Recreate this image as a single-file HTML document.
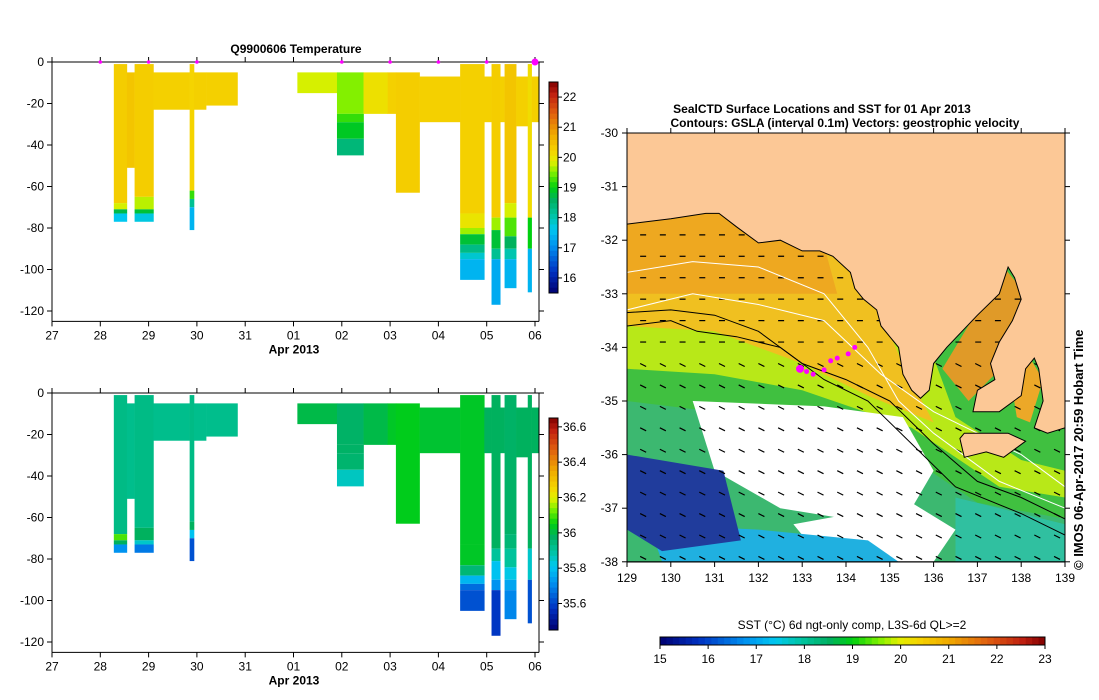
<!DOCTYPE html>
<html><head><meta charset="utf-8"><style>
html,body{margin:0;padding:0;background:#fff;}
svg{display:block;font-family:"Liberation Sans",sans-serif;}
</style></head><body>
<svg id="root" width="1099" height="700" viewBox="0 0 1099 700" xmlns="http://www.w3.org/2000/svg">
<g id="top"></g>
<g id="bot"></g>
<g id="map"></g>
</svg>
<script>
// ---- section data ----
const dayLabels = ["27","28","29","30","31","01","02","03","04","05","06"];
const surfaceDays = [1,2,3,6,7,8,9,10];
const tempTicks = [16,17,18,19,20,21,22];
const salTicks = [35.6,35.8,36,36.2,36.4,36.6];
const depthTicks = [0,-20,-40,-60,-80,-100,-120];
// profiles: [startDay, endDay, segments [depthTop, depthBottom, temperature, salinity]]
const profiles = [
 [1.28,1.55,[[1,68,20.3,35.93],[68,71,19.8,36.1],[71,73,18.7,35.98],[73,77,17.6,35.72]]],
 [1.55,1.71,[[5,51,20.4,35.92]]],
 [1.71,2.10,[[1,65,20.3,35.93],[65,71,19.7,35.98],[71,73,18.8,35.85],[73,77,17.7,35.68]]],
 [2.10,2.85,[[5,23,20.25,35.92]]],
 [2.85,2.94,[[1,62,20.2,35.93],[62,66,19.2,35.98],[66,70,18.2,35.8],[70,81,17.4,35.62]]],
 [2.94,3.19,[[5,23,20.25,35.92]]],
 [3.19,3.84,[[5,21,20.25,35.92]]],
 [5.08,5.90,[[5,15,19.8,36.0]]],
 [5.90,6.45,[[5,25,19.5,35.97],[25,29,19.2,35.97],[29,37,18.9,35.96],[37,45,18.4,35.86]]],
 [6.45,6.95,[[5,25,20.05,36.0]]],
 [6.95,7.12,[[5,25,20.25,36.03]]],
 [7.12,7.61,[[5,63,20.3,36.04]]],
 [7.61,8.45,[[7,29,20.25,36.02]]],
 [8.45,8.95,[[1,73,20.25,36.03],[73,80,20.0,36.03],[80,83,19.6,36.03],[83,88,18.8,35.95],[88,92,18.3,35.78],[92,95,17.8,35.66],[95,105,17.4,35.62]]],
 [8.95,9.10,[[7,29,20.25,35.98]]],
 [9.10,9.28,[[1,75,20.3,35.98],[75,81,19.6,35.9],[81,90,18.8,35.8],[90,95,18.2,35.72],[95,117,17.3,35.58]]],
 [9.28,9.37,[[7,29,20.25,35.98]]],
 [9.37,9.61,[[1,68,20.4,35.97],[68,75,19.8,35.95],[75,84,19.3,35.9],[84,90,18.6,35.82],[90,95,18.0,35.75],[95,109,17.4,35.7]]],
 [9.61,9.85,[[7,31,20.25,35.98]]],
 [9.85,9.93,[[1,75,20.1,35.98],[75,90,19.0,35.85],[90,111,17.4,35.62]]],
 [9.93,10.07,[[7,29,20.25,35.98]]]
];
const sstTicks = [15,16,17,18,19,20,21,22,23];
const lonTicks = [129,130,131,132,133,134,135,136,137,138,139];
const latTicks = [-30,-31,-32,-33,-34,-35,-36,-37,-38];
// seal surface positions [lon, lat]
const sealLon = [132.95,133.1,133.25,133.5,133.65,133.8,134.05,134.2];
const sealLat = [-34.4,-34.45,-34.5,-34.42,-34.25,-34.2,-34.12,-34.0];

const NS="http://www.w3.org/2000/svg";
function el(tag,attrs,parent,text){const e=document.createElementNS(NS,tag);for(const k in attrs)e.setAttribute(k,attrs[k]);if(text!==undefined)e.textContent=text;parent.appendChild(e);return e;}
const stops=[[0,[0,0,112]],[0.1,[0,48,192]],[0.22,[0,144,240]],[0.3,[0,200,240]],[0.37,[0,196,160]],[0.44,[0,176,96]],[0.5,[0,208,16]],[0.57,[128,240,0]],[0.62,[225,240,0]],[0.67,[245,213,0]],[0.75,[240,170,0]],[0.85,[224,96,16]],[0.94,[192,32,16]],[1,[128,0,0]]];
function cmap(t){t=Math.max(0,Math.min(1,t));for(let i=1;i<stops.length;i++){if(t<=stops[i][0]){const a=stops[i-1],b=stops[i];const f=(t-a[0])/(b[0]-a[0]);const c=a[1].map((v,j)=>Math.round(v+(b[1][j]-v)*f));return `rgb(${c[0]},${c[1]},${c[2]})`;}}return "rgb(128,0,0)";}

function section(g,y0,idx,vmin,vmax,ticks,cbTop,cbBot,title){
  const x0=52,pxd=48.3,pxm=2.075;
  const X=d=>x0+d*pxd, Y=z=>y0+z*pxm;
  if(title) { const t=el('text',{x:296,y:y0-9,'text-anchor':'middle','font-size':12,'font-weight':'bold'},g,title);
      }
  profiles.forEach((p,i)=>{p[2].forEach(s=>{
    const r=el('rect',{x:X(p[0]),y:Y(s[0]),width:X(p[1])-X(p[0])+0.3,height:Y(s[1])-Y(s[0]),fill:cmap((s[idx]-vmin)/(vmax-vmin))},g);
     
  });});
  const ax=el('g',{stroke:'#000','stroke-width':1,fill:'none'},g);
   
  el('line',{x1:x0,y1:y0,x2:539,y2:y0},ax);
  el('line',{x1:x0,y1:y0-5,x2:x0,y2:y0+125*pxm},ax);
  el('line',{x1:x0,y1:y0+125*pxm,x2:539,y2:y0+125*pxm},ax);
  el('line',{x1:539,y1:y0,x2:539,y2:y0+125*pxm},ax);
  dayLabels.forEach((d,i)=>{
    el('line',{x1:X(i),y1:y0+125*pxm,x2:X(i),y2:y0+125*pxm+5},ax);
    el('line',{x1:X(i),y1:y0,x2:X(i),y2:y0-5},ax);
    const t=el('text',{x:X(i),y:y0+125*pxm+18,'text-anchor':'middle','font-size':12},g,d);
     
  });
  depthTicks.forEach(v=>{
    el('line',{x1:x0-5,y1:Y(-v),x2:x0,y2:Y(-v)},ax);
    el('line',{x1:539,y1:Y(-v),x2:544,y2:Y(-v)},ax);
    const t=el('text',{x:x0-8,y:Y(-v)+4,'text-anchor':'end','font-size':12},g,String(v));
     
  });
  const xl=el('text',{x:294,y:y0+125*pxm+32,'text-anchor':'middle','font-size':12,'font-weight':'bold'},g,'Apr 2013');
   
  if(idx===2){surfaceDays.forEach(d=>{
    const m=el('circle',{cx:X(d),cy:y0,r:d===10?3.5:1.8,fill:'#ff00ff'},g);
     });}
  const cb=el('g',{},g);  
  const n=40;for(let i=0;i<n;i++){el('rect',{x:549,y:cbTop+(cbBot-cbTop)*i/n,width:9,height:(cbBot-cbTop)/n+0.5,fill:cmap(1-(i+0.5)/n)},cb);}
  el('rect',{x:549,y:cbTop,width:9,height:cbBot-cbTop,fill:'none',stroke:'#000'},cb);
  ticks.forEach(v=>{const yy=cbBot-(v-vmin)/(vmax-vmin)*(cbBot-cbTop);
    el('line',{x1:558,y1:yy,x2:562,y2:yy,stroke:'#000'},cb);
    const t=el('text',{x:563,y:yy+4,'font-size':12},cb,String(v));
     });
}
section(document.getElementById('top'),62,2,15.5,22.5,tempTicks,82,293,'Q9900606  Temperature');
section(document.getElementById('bot'),393,3,35.45,36.65,salTicks,418,630,null);

// ---- map ----
const mg=document.getElementById('map');
const LX=l=>627+(l-129)*43.8, LY=l=>133+(-30-l)*53.6;
const pts=a=>a.map(p=>LX(p[0]).toFixed(1)+','+LY(p[1]).toFixed(1)).join(' ');
const t1=el('text',{x:822,y:113,'text-anchor':'middle','font-size':12,'font-weight':'bold'},mg,'SealCTD Surface Locations and SST for 01 Apr 2013');
 
const t2=el('text',{x:845,y:127,'text-anchor':'middle','font-size':12,'font-weight':'bold'},mg,'Contours: GSLA (interval 0.1m) Vectors: geostrophic velocity');
 
const land=el('rect',{x:627,y:133,width:438,height:429,fill:'#fcc896'},mg);
 
const sea=[[129,-31.7],[130,-31.6],[130.8,-31.5],[131.1,-31.5],[131.5,-31.75],[132,-32.05],[132.5,-32.0],[133,-32.2],[133.4,-32.2],[133.7,-32.3],[134.1,-32.6],[134.2,-32.9],[134.4,-33.1],[134.7,-33.3],[134.8,-33.6],[135.2,-34.0],[135.3,-34.5],[135.5,-34.8],[135.7,-34.95],[135.9,-34.8],[136.0,-34.3],[136.3,-34.0],[137.0,-33.4],[137.5,-33.0],[137.7,-32.5],[137.85,-32.7],[138.0,-33.1],[137.8,-33.5],[137.5,-33.9],[137.3,-34.3],[137.4,-34.6],[137.0,-34.8],[136.9,-35.2],[137.5,-35.2],[138.0,-34.9],[138.1,-34.4],[138.3,-34.2],[138.4,-34.4],[138.5,-35.0],[138.3,-35.5],[138.6,-35.6],[139,-35.5],[139,-38],[129,-38]];
const defs=el('defs',{},mg);const cp=el('clipPath',{id:'seaclip'},defs);el('polygon',{points:pts(sea)},cp);
const sg=el('g',{'clip-path':'url(#seaclip)'},mg);
 
el('polygon',{points:pts(sea),fill:'#40c040'},sg);
el('polygon',{points:pts([[129,-31.5],[134.8,-31.5],[136.5,-35.3],[138,-36.1],[139,-36.3],[139,-36.8],[137.5,-36.6],[135.5,-35.5],[133,-34.8],[131,-34.5],[129,-34.4]]),fill:'#b8e818'},sg);
el('polygon',{points:pts([[129,-31.5],[133.8,-31.5],[135.4,-34.5],[136,-35.4],[134.5,-34.9],[133,-34.3],[131,-33.7],[129,-33.6]]),fill:'#f0c020'},sg);
el('polygon',{points:pts([[129,-31.5],[133.3,-31.5],[133.8,-33.0],[132,-33.0],[129,-33.0]]),fill:'#eea820'},sg);
el('polygon',{points:pts([[136.2,-34.4],[137.6,-32.5],[138.1,-33.0],[137.4,-34.5],[136.8,-35.0]]),fill:'#e09a28'},sg);
el('polygon',{points:pts([[137.8,-34.8],[138.2,-34.2],[138.5,-34.6],[138.2,-35.4],[137.9,-35.3]]),fill:'#eca828'},sg);
el('polygon',{points:pts([[129,-35.0],[131,-35.2],[133,-35.6],[135,-35.8],[137,-36.9],[139,-37.2],[139,-38],[129,-38]]),fill:'#3cb870'},sg);
el('polygon',{points:pts([[130.5,-35.0],[133.5,-35.1],[135.3,-35.3],[136,-36.3],[135.5,-37.0],[134,-37.2],[132.5,-37.0],[131,-36.3]]),fill:'#ffffff'},sg);
el('polygon',{points:pts([[132.8,-37.3],[135.5,-36.9],[136.5,-37.4],[136,-38],[133.5,-38]]),fill:'#ffffff'},sg);
el('polygon',{points:pts([[129.5,-37.3],[132,-37.4],[134.5,-37.6],[135.2,-38],[129.8,-38]]),fill:'#20b0e0'},sg);
el('polygon',{points:pts([[129,-36.0],[131.2,-36.3],[131.6,-37.6],[129.8,-37.8],[129,-37.4]]),fill:'#203c9c'},sg);
el('polygon',{points:pts([[136.5,-36.8],[139,-37.3],[139,-38],[136.5,-38]]),fill:'#30c0a0'},sg);
const vg=el('g',{stroke:'#000','stroke-width':1.2},sg);
for(let lo=129.3;lo<139;lo+=0.45){for(let la=-31.9;la>-38;la-=0.4){const x=LX(lo),y=LY(la);el('line',{x1:x,y1:y,x2:x+6,y2:y+(la>-34?0:3)},vg);}}
el('polyline',{points:pts([[129,-33.35],[130,-33.3],[131,-33.4],[132,-33.7],[133,-34.3],[134,-34.6],[135,-35.0],[136,-35.8],[137,-36.5],[138,-36.8],[139,-37.2]]),fill:'none',stroke:'#000'},sg);
el('polyline',{points:pts([[129,-33.6],[130,-33.5],[130.6,-33.7],[131.5,-33.8],[132.5,-34.0],[133.5,-34.6],[134.5,-35.0],[135.5,-35.8],[136.5,-36.6],[138,-37.1],[139,-37.5]]),fill:'none',stroke:'#000'},sg);
el('polyline',{points:pts([[129,-32.6],[130.5,-32.4],[132,-32.5],[133.5,-33.0],[134.5,-34.0],[135.2,-35.0],[136,-35.6],[137.5,-36.5],[139,-37.0]]),fill:'none',stroke:'#fff'},sg);
el('polyline',{points:pts([[129,-33.3],[130.5,-33.0],[132,-33.2],[133.5,-33.5],[134.8,-34.5],[136,-35.2],[138,-36],[139,-36.6]]),fill:'none',stroke:'#fff'},sg);
const coast=el('polygon',{points:pts(sea),fill:'none',stroke:'#000','stroke-width':1},mg);
 
const ki=el('polygon',{points:pts([[136.6,-35.7],[136.7,-35.6],[137.3,-35.6],[137.7,-35.6],[138.1,-35.75],[137.6,-36.05],[137.2,-35.95],[136.7,-36.05]]),fill:'#fcc896',stroke:'#000'},mg);
 
sealLon.forEach((lo,i)=>{const c=el('circle',{cx:LX(lo),cy:LY(sealLat[i]),r:i===0?4:2.5,fill:'#ff00ff'},mg);
   });
el('rect',{x:627,y:133,width:438,height:429,fill:'none',stroke:'#000'},mg);
lonTicks.forEach(l=>{el('line',{x1:LX(l),y1:562,x2:LX(l),y2:567,stroke:'#000'},mg);el('line',{x1:LX(l),y1:133,x2:LX(l),y2:128,stroke:'#000'},mg);
  const t=el('text',{x:LX(l),y:582,'text-anchor':'middle','font-size':12},mg,String(l));
   });
latTicks.forEach(l=>{el('line',{x1:622,y1:LY(l),x2:627,y2:LY(l),stroke:'#000'},mg);el('line',{x1:1065,y1:LY(l),x2:1070,y2:LY(l),stroke:'#000'},mg);
  const t=el('text',{x:618,y:LY(l)+4,'text-anchor':'end','font-size':12},mg,String(l));
   });
const cr=el('text',{x:1083,y:570,'font-size':13,'font-weight':'bold',transform:'rotate(-90 1083 570)'},mg,'\u00a9  IMOS 06-Apr-2017 20:59 Hobart Time');
 
const cl=el('text',{x:852,y:629,'text-anchor':'middle','font-size':12},mg,'SST (\u00b0C) 6d ngt-only comp, L3S-6d QL>=2');
 
const hb=el('g',{},mg);  
for(let i=0;i<60;i++){el('rect',{x:660+385*i/60,y:637,width:385/60+0.5,height:8,fill:cmap((i+0.5)/60)},hb);}
el('rect',{x:660,y:637,width:385,height:8,fill:'none',stroke:'#000'},hb);
sstTicks.forEach(v=>{const x=660+(v-15)/8*385;el('line',{x1:x,y1:645,x2:x,y2:649,stroke:'#000'},hb);
  const t=el('text',{x:x,y:663,'text-anchor':'middle','font-size':12},hb,String(v));
   });
</script>
</body></html>
